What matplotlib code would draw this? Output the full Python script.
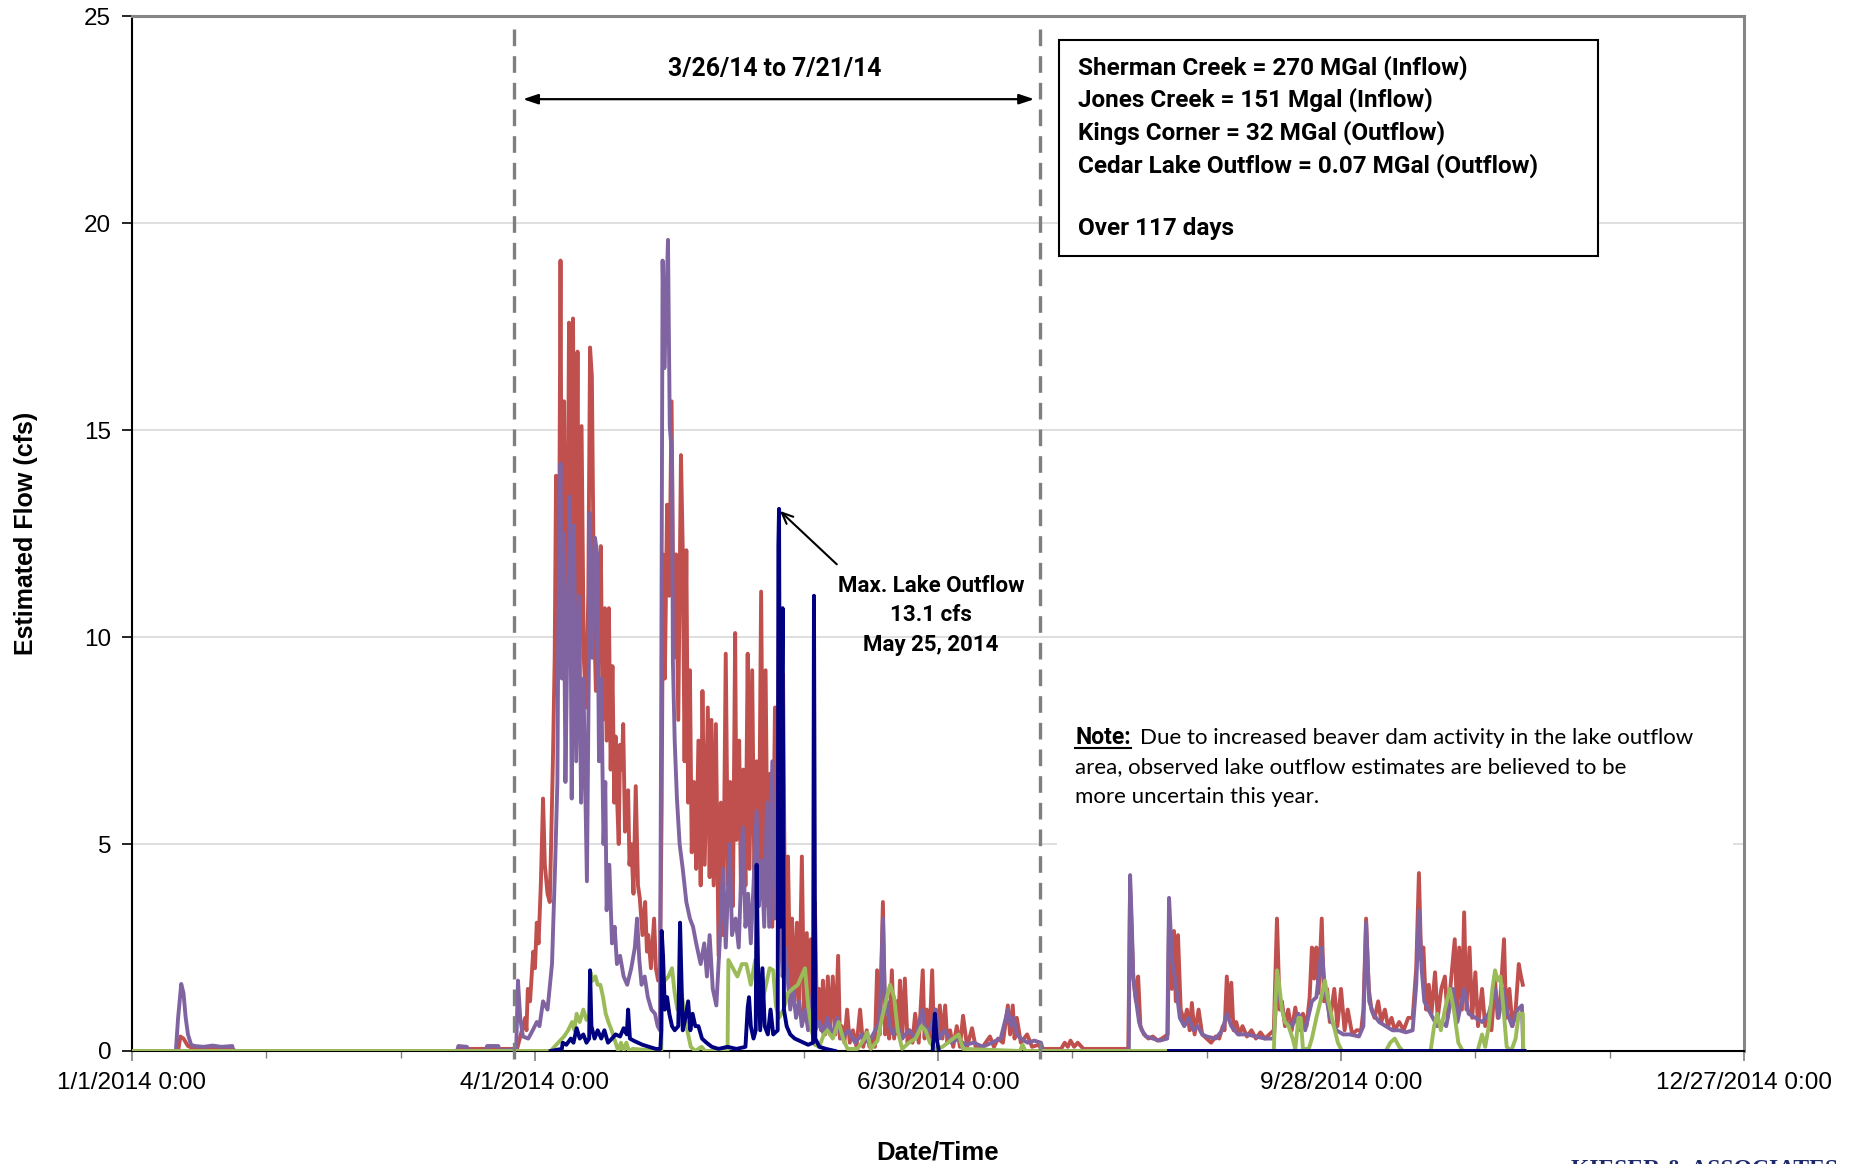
import numpy as np
import matplotlib
matplotlib.use("Agg")
import matplotlib.pyplot as plt
from matplotlib.patches import Rectangle
from matplotlib.ticker import MultipleLocator

# x values are days since 1/1/2014 0:00, y values are flow in cfs
tick_days = [0, 90, 180, 270, 360]
tick_labels = ["1/1/2014 0:00", "4/1/2014 0:00", "6/30/2014 0:00",
               "9/28/2014 0:00", "12/27/2014 0:00"]
period_start = 85.4   # 3/26/14 line as drawn
period_end = 202.8    # 7/21/14 line as drawn
max_outflow_day = 144.5
max_outflow_cfs = 13.1

sherman = [
    (0, 0), (10.3, 0), (10.8, 0.35), (11.5, 0.3), (12.5, 0.12), (14, 0.05), (22.5, 0.05), (23, 0),
    (72.5, 0), (73, 0.05), (86.0, 0.05),
    (86.6, 0.3), (87.3, 0.6), (87.8, 0.8), (88.1, 0.5), (88.4, 1.5), (88.9, 1.2), (89.6, 2.4), (90.0, 2.0),
    (90.4, 3.1), (90.8, 2.6), (91.3, 4.0), (91.8, 6.1), (92.2, 4.5), (92.8, 3.8), (93.3, 3.6), (93.6, 5.0),
    (94.0, 7.0), (94.4, 9.5), (94.7, 13.9), (95.0, 9.0), (95.4, 12.0), (95.7, 19.1), (96.0, 11.0),
    (96.5, 15.7), (96.9, 9.5), (97.3, 12.0), (97.6, 17.6), (98.0, 10.0), (98.5, 17.7), (98.9, 8.8),
    (99.2, 12.5), (99.5, 16.9), (99.9, 9.0), (100.4, 15.1), (100.9, 9.5), (101.4, 8.3), (101.9, 11.0),
    (102.3, 17.0), (102.7, 16.3), (103.2, 10.5), (103.6, 8.7), (104.2, 9.5), (104.7, 12.2), (105.1, 8.0),
    (105.6, 10.7), (106.0, 7.5), (106.5, 10.7), (106.9, 6.8), (107.3, 9.3), (107.7, 6.0), (108.0, 7.6),
    (108.2, 6.5), (108.7, 5.0), (109.0, 7.4), (109.4, 6.8), (109.7, 7.9), (110.1, 5.3), (110.8, 6.3),
    (111.1, 4.5), (111.5, 5.0), (112.0, 3.8), (112.5, 6.4), (113.0, 4.0), (113.4, 3.7), (114.0, 2.8),
    (114.6, 3.6), (115.0, 2.4), (115.3, 2.8), (115.9, 2.0), (116.6, 3.2), (117.0, 2.0), (117.5, 1.7),
    (117.9, 1.8), (118.3, 6.0), (118.6, 12.0), (119.0, 9.0), (119.5, 13.2), (120.0, 11.0), (120.5, 15.7),
    (121.0, 9.5), (121.5, 12.0), (122.0, 8.0), (122.6, 14.4), (123.0, 12.1), (123.4, 7.0), (123.8, 12.1),
    (124.2, 6.0), (124.6, 9.2), (125.0, 4.8), (125.5, 6.5), (126.0, 4.4), (126.5, 7.5), (127.0, 4.0),
    (127.4, 8.7), (127.9, 4.5), (128.6, 8.3), (129.0, 4.2), (129.4, 8.0), (129.9, 4.0), (130.4, 7.9),
    (131.0, 2.3), (131.5, 6.0), (132.0, 2.8), (132.6, 9.6), (133.1, 4.0), (133.6, 6.5), (134.2, 3.5),
    (134.7, 10.1), (135.0, 5.1), (135.6, 7.5), (136.0, 3.8), (136.5, 6.8), (137.0, 4.0), (137.5, 9.6),
    (137.9, 4.4), (138.5, 9.2), (139.0, 4.0), (139.5, 7.0), (140.0, 4.2), (140.5, 11.1), (141.0, 4.5),
    (141.5, 9.2), (142.0, 3.5), (142.5, 6.7), (143.0, 3.0), (143.6, 8.3), (144.0, 3.5), (144.5, 10.6),
    (145.0, 3.0), (145.4, 9.1), (145.9, 2.0), (146.5, 4.7), (147.0, 1.5), (147.4, 3.2), (148.0, 1.2),
    (148.5, 3.1), (149.0, 1.0), (149.6, 4.7), (150.1, 0.9), (150.7, 2.85), (151.1, 0.8), (151.6, 2.7),
    (152.0, 0.8), (152.5, 3.6), (153.0, 0.6), (153.4, 1.5), (153.9, 0.5), (154.3, 1.7), (154.8, 0.4),
    (155.4, 1.8), (155.9, 0.4), (156.5, 1.8), (157.1, 0.4), (157.7, 2.3), (158.1, 0.3), (158.5, 0.6),
    (159.1, 0.2), (159.7, 1.0), (160.3, 0.2), (161.0, 0.5), (161.8, 0.1), (162.6, 1.0), (163.3, 0.1),
    (164.1, 0.5), (164.7, 0.1), (165.3, 0.35), (165.9, 0.1), (166.4, 1.95), (167.0, 0.4), (167.7, 3.6),
    (168.2, 0.4), (168.6, 0.8), (169.1, 0.3), (169.7, 1.95), (170.2, 0.3), (170.8, 1.2), (171.1, 0.4),
    (171.5, 1.7), (172.0, 0.3), (172.6, 1.75), (173.2, 0.2), (173.7, 0.5), (174.3, 0.2), (174.9, 0.9),
    (175.7, 0.2), (176.6, 1.95), (177.0, 0.3), (177.5, 1.0), (178.1, 0.3), (178.7, 1.95), (179.1, 0.3),
    (179.5, 1.0), (180.0, 0.3), (180.4, 1.1), (181.0, 0.3), (181.6, 1.1), (182.1, 0.2), (182.7, 0.5),
    (183.4, 0.1), (184.2, 0.6), (184.9, 0.1), (185.6, 0.85), (186.5, 0.1), (187.6, 0.55), (188.5, 0.05),
    (190.0, 0.1), (191.6, 0.35), (192.5, 0.1), (193.4, 0.3), (194.5, 0.2), (195.6, 1.1), (196.1, 0.4),
    (196.7, 1.1), (197.1, 0.3), (197.6, 0.8), (198.5, 0.2), (199.9, 0.4), (201, 0.1), (202.5, 0.15),
    (203, 0.05), (207.5, 0.05), (208.3, 0.2), (209, 0.1), (209.6, 0.25), (210.4, 0.1), (211.2, 0.2),
    (212.5, 0.05), (214, 0.05), (222.5, 0.05),
    (222.9, 4.0), (223.6, 1.8), (224.2, 1.2), (224.7, 1.8), (225.2, 0.6), (226, 0.4), (227, 0.3),
    (228, 0.35), (229, 0.25), (230, 0.3), (231.3, 0.4), (231.6, 3.2), (232.2, 1.5), (232.7, 2.9),
    (233.1, 1.2), (233.6, 2.8), (234.2, 1.0), (235, 0.7), (235.6, 1.0), (236.2, 0.5), (236.7, 1.16),
    (237.3, 0.4), (238.2, 1.0), (239, 0.4), (240, 0.3), (241, 0.2), (242, 0.35), (242.8, 0.3),
    (243.6, 0.6), (244.0, 0.5), (244.5, 1.8), (245.0, 0.8), (245.5, 1.65), (246, 0.5), (246.6, 0.7),
    (247.3, 0.4), (248, 0.6), (249, 0.35), (250, 0.5), (251, 0.3), (252, 0.45), (253, 0.3), (254, 0.4),
    (255, 0.5), (255.7, 3.2), (256.3, 1.0), (256.8, 1.2), (257.5, 0.6), (258.2, 1.0), (259, 0.5),
    (259.8, 1.05), (260.5, 0.5), (261.5, 0.9), (262.3, 0.6), (263.0, 1.3), (263.5, 2.5), (264.0, 1.75),
    (264.5, 2.5), (265.0, 1.4), (265.7, 3.2), (266.2, 1.2), (266.9, 1.5), (267.5, 0.7), (268.5, 1.5),
    (269.2, 0.6), (270, 1.5), (270.8, 0.5), (271.5, 1.0), (272.5, 0.4), (273.5, 0.5), (274.5, 0.5),
    (275.0, 1.0), (275.6, 3.2), (276.2, 1.5), (276.8, 1.0), (277.5, 0.8), (278.3, 1.2), (279, 0.7),
    (279.8, 1.0), (280.5, 0.6), (281.3, 0.8), (282, 0.5), (283, 0.7), (284, 0.5), (285, 0.8), (286, 0.8),
    (286.8, 2.0), (287.4, 4.3), (287.9, 2.2), (288.4, 2.5), (289.0, 1.0), (289.6, 1.6), (290.2, 0.9),
    (291.0, 1.9), (291.6, 0.8), (292.4, 1.5), (293.2, 1.8), (293.8, 0.8), (294.4, 1.5), (295.4, 2.7),
    (295.9, 0.9), (296.4, 2.5), (297.0, 1.0), (297.5, 3.35), (298.0, 1.0), (298.7, 2.5), (299.3, 0.8),
    (300, 1.9), (300.6, 0.6), (301.5, 1.5), (302.2, 0.6), (303.0, 0.9), (303.6, 0.5), (304.4, 1.7),
    (305.0, 0.8), (305.6, 1.3), (306.4, 2.7), (306.9, 0.8), (307.6, 1.5), (308.3, 0.6), (309.0, 1.0),
    (309.7, 2.1), (310.2, 1.8), (310.6, 1.6),
]

jones = [
    (0, 0), (9.8, 0), (10.3, 0.8), (11.0, 1.62), (11.5, 1.4), (12.0, 0.8), (12.5, 0.4), (13.2, 0.15),
    (14, 0.12), (16, 0.1), (18, 0.13), (20, 0.1), (22.4, 0.12), (22.6, 0), (72.6, 0), (72.9, 0.12),
    (74.8, 0.1), (75.1, 0), (79, 0), (79.3, 0.12), (81.8, 0.12), (82.1, 0),
    (85.8, 0.05), (86.2, 1.7), (86.7, 0.8), (87.3, 0.35), (88.5, 0.3), (89.5, 0.5), (90.4, 0.7),
    (91.0, 0.6), (91.8, 1.2), (92.8, 1.0), (93.8, 2.1), (94.5, 4.5), (95.0, 6.5), (95.2, 10.0),
    (95.7, 14.2), (96.0, 9.0), (96.4, 12.5), (96.8, 6.5), (97.3, 10.5), (97.8, 13.4), (98.2, 6.1),
    (98.7, 12.7), (99.2, 7.0), (99.8, 11.0), (100.3, 6.0), (100.8, 9.0), (101.6, 4.1), (102.0, 9.0),
    (102.3, 13.0), (102.8, 9.5), (103.4, 12.4), (103.9, 12.0), (104.3, 7.0), (104.8, 9.0), (105.3, 5.0),
    (105.7, 6.5), (106.0, 3.4), (106.6, 4.5), (107.2, 2.6), (107.8, 3.0), (108.3, 2.1), (109.0, 2.3),
    (109.8, 1.8), (110.6, 1.6), (111.5, 2.0), (112.3, 2.5), (112.8, 3.2), (113.3, 2.2), (113.8, 1.6),
    (114.5, 1.8), (115.2, 1.3), (116.0, 1.0), (116.8, 0.9), (117.4, 0.6), (117.9, 0.5), (118.2, 8.7),
    (118.5, 19.1), (118.9, 16.5), (119.3, 18.0), (119.7, 19.6), (120.1, 15.1), (120.6, 14.4),
    (120.8, 9.4), (121.2, 7.5), (121.7, 6.1), (122.3, 5.0), (123.0, 4.4), (123.8, 3.6), (124.6, 3.2),
    (125.3, 3.0), (126.0, 2.6), (127.0, 2.1), (127.8, 2.6), (128.4, 1.8), (129.0, 2.8), (129.7, 1.5),
    (130.5, 1.1), (131.2, 2.5), (132.0, 4.4), (132.6, 2.5), (133.5, 5.0), (134.0, 2.8), (134.8, 3.2),
    (135.5, 2.5), (136.4, 5.4), (137.0, 3.0), (137.6, 3.8), (138.2, 2.6), (138.8, 4.0), (139.5, 5.8),
    (140.0, 3.5), (140.6, 4.6), (141.2, 3.0), (141.8, 6.0), (142.3, 3.0), (143.0, 7.0), (143.5, 3.2),
    (144.0, 5.0), (144.7, 3.5), (145.3, 1.8), (145.8, 2.5), (146.3, 1.9), (147.0, 1.0), (147.6, 1.5),
    (148.3, 0.8), (149.0, 1.2), (149.6, 0.6), (150.3, 1.0), (151.0, 0.5), (151.6, 0.9), (152.1, 1.5),
    (152.6, 0.5), (153.5, 0.7), (154.5, 0.4), (155.3, 0.8), (156.3, 0.35), (157.5, 0.8), (158.5, 0.3),
    (160, 0.5), (161.5, 0.2), (163, 0.4), (164.5, 0.2), (166.0, 0.5), (167.0, 0.7), (167.7, 3.2),
    (168.2, 1.0), (168.6, 1.2), (169.2, 0.6), (170, 0.4), (171, 0.6), (172, 0.3), (173.5, 0.5),
    (175, 0.3), (176.5, 1.0), (177.3, 0.4), (178.5, 0.6), (179.5, 1.0), (180.3, 0.3), (181.5, 0.5),
    (183, 0.2), (184.5, 0.3), (186, 0.15), (188, 0.2), (190, 0.1), (192, 0.2), (194, 0.3), (195.6, 1.0),
    (196.3, 0.6), (196.9, 0.8), (197.6, 0.4), (198.5, 0.3), (200, 0.2), (201.5, 0.25), (203, 0.2),
    (203.5, 0), (222.6, 0),
    (222.9, 4.25), (223.3, 3.0), (223.6, 1.8), (224.0, 1.4), (224.9, 0.7), (225.5, 0.5), (226.5, 0.35),
    (228, 0.3), (229.5, 0.25), (231.2, 0.3), (231.6, 3.7), (232.0, 2.8), (232.4, 2.1), (233.0, 1.7),
    (234, 0.8), (235, 0.6), (236, 0.8), (237, 0.5), (238, 0.6), (239, 0.4), (240, 0.35), (242, 0.3),
    (243.5, 0.5), (244.5, 0.9), (245.5, 0.6), (247, 0.4), (249, 0.4), (251, 0.35), (253, 0.3),
    (255, 0.3), (255.7, 1.5), (256.3, 1.3), (257.5, 0.7), (259, 0.6), (260.5, 0.9), (262, 0.5),
    (263.5, 1.2), (264.5, 1.3), (265.7, 2.5), (266.4, 1.5), (267.5, 0.8), (269, 0.5), (270.5, 0.4),
    (272, 0.4), (274, 0.35), (275.0, 0.6), (275.6, 3.1), (276.3, 1.2), (277.2, 0.9), (278.5, 0.7),
    (280, 0.6), (281.5, 0.5), (283, 0.5), (284.5, 0.45), (286, 0.5), (286.8, 1.6), (287.4, 3.4),
    (288.0, 2.0), (288.6, 1.2), (289.5, 1.0), (290.5, 0.8), (291.5, 0.6), (292.5, 0.7), (293.5, 0.6),
    (295.0, 1.5), (296, 0.7), (297.5, 1.5), (298.5, 0.9), (300, 0.8), (301.5, 0.7), (303, 0.9),
    (304.4, 1.5), (305.2, 0.8), (306.2, 1.5), (307.2, 0.9), (308.2, 0.6), (309.5, 1.0), (310.4, 1.1),
    (310.7, 0),
]

kings_corner = [
    (0, 0), (93.5, 0), (95.6, 0.25), (96.5, 0.35), (97.4, 0.5), (98.3, 0.7), (98.8, 0.5), (99.3, 0.9),
    (100.0, 0.7), (100.8, 1.0), (101.5, 0.75), (102.1, 0.8), (102.4, 1.9), (102.9, 1.7), (103.5, 1.8),
    (104.0, 1.6), (104.6, 1.6), (105.2, 1.3), (105.8, 0.9), (106.4, 0.7), (107.1, 0.5), (108.0, 0.2),
    (108.6, 0.0), (109.2, 0.2), (109.8, 0.0), (110.4, 0.2), (111.0, 0.0), (111.8, 0.05), (118.2, 0.0),
    (118.4, 1.6), (119.0, 1.7), (119.8, 1.8), (120.6, 2.0), (121.2, 1.4), (121.8, 1.0), (122.7, 1.4),
    (123.3, 1.0), (124.0, 0.5), (124.8, 0.1), (125.8, 0), (127.2, 0.1), (128.0, 0), (133.0, 0),
    (133.2, 2.2), (134.2, 2.0), (135.2, 1.8), (136.2, 2.1), (137.2, 2.1), (138.2, 1.6), (139.2, 2.2),
    (140.3, 1.0), (141.4, 1.5), (142.4, 2.0), (143.2, 1.95), (143.8, 1.1), (144.5, 0.8), (145.5, 1.0),
    (146.5, 1.4), (147.5, 1.5), (148.7, 1.6), (149.5, 1.8), (150.3, 2.0), (151.0, 1.1), (151.8, 0.5),
    (152.5, 0.15), (153.5, 0.1), (154.5, 0.4), (155.3, 0.5), (156.5, 0.3), (157.8, 0.7), (158.8, 0.3),
    (159.8, 0.05), (162, 0.05), (163.6, 0.3), (164.2, 0.45), (165, 0.05), (166.5, 0.25), (167.5, 0.8),
    (168.6, 1.3), (169.3, 1.6), (170.2, 1.3), (171.0, 0.5), (172.0, 0.05), (173.5, 0.2), (175, 0.3),
    (176.3, 0.6), (177.2, 0.5), (178.2, 0.2), (179.5, 0.05), (181, 0.1), (184.6, 0.4), (185.6, 0.05),
    (198.3, 0.0), (198.9, 0.15), (199.5, 0.0), (255.0, 0.0), (255.3, 1.0), (255.7, 1.95), (256.2, 1.6),
    (256.8, 1.0), (257.5, 0.7), (258.3, 0.6), (259.2, 0.3), (259.8, 0.05), (260.5, 0.8), (261.0, 0.8),
    (261.5, 0.05), (262.8, 0.05), (263.5, 0.3), (264.5, 0.8), (265.4, 1.2), (266.4, 1.7), (267.0, 1.3),
    (267.6, 1.0), (268.4, 0.6), (269.3, 0.2), (270.2, 0.0), (280.0, 0.0), (281.0, 0.2), (282.0, 0.3),
    (283.0, 0.1), (283.8, 0.0), (290.0, 0.0), (290.8, 0.6), (291.5, 0.9), (292.3, 0.5), (293.2, 1.0),
    (294.3, 1.5), (295.2, 1.0), (296.2, 0.2), (297.2, 0.0), (300.5, 0.0), (301.5, 0.4), (302.2, 0.1),
    (303.0, 0.6), (303.8, 1.5), (304.4, 1.95), (305.0, 1.7), (305.6, 1.8), (306.3, 1.0), (307.0, 0.1),
    (308.0, 0.0), (309.0, 0.3), (309.7, 0.9), (310.6, 0.9), (310.7, 0.0), (311, 0),
]

cedar_lake = [
    (93.5, 0), (96.0, 0.05), (96.2, 0.2), (97.0, 0.15), (98.0, 0.3), (98.6, 0.2), (99.3, 0.55),
    (100.0, 0.3), (100.8, 0.4), (101.5, 0.2), (102.1, 0.3), (102.3, 1.95), (102.6, 0.6), (103.3, 0.3),
    (104.0, 0.5), (104.8, 0.3), (105.5, 0.5), (106.3, 0.2), (107.2, 0.3), (108.0, 0.4), (109.0, 0.35),
    (109.8, 0.55), (110.5, 0.4), (110.8, 1.0), (111.2, 0.3), (112.0, 0.25), (113.0, 0.2), (114.0, 0.15),
    (115.5, 0.1), (117.0, 0.05), (118.0, 0.05), (118.2, 0.5), (118.3, 2.9), (118.6, 2.3), (119.0, 1.0),
    (119.5, 1.3), (120.0, 0.9), (120.6, 0.6), (121.2, 0.5), (122.0, 0.6), (122.4, 3.1), (122.6, 2.2),
    (123.0, 0.5), (123.6, 0.8), (124.2, 1.2), (124.7, 0.5), (125.2, 0.9), (125.8, 0.6), (126.5, 0.6),
    (127.3, 0.3), (128.3, 0.2), (129.5, 0.1), (131, 0.05), (133, 0.1), (135, 0.05), (137.0, 0.1),
    (137.5, 1.05), (137.8, 1.3), (138.2, 0.6), (138.8, 0.3), (139.3, 0.5), (139.5, 4.5), (139.8, 2.1),
    (140.3, 0.5), (140.8, 2.0), (141.3, 0.6), (142.0, 0.4), (142.6, 1.0), (143.2, 0.4), (144.2, 0.5),
    (144.35, 12.2), (144.5, 13.1), (144.8, 3.0), (145.3, 10.7), (145.6, 1.0), (146.2, 0.6),
    (147.0, 0.4), (148.0, 0.3), (149.0, 0.25), (150.0, 0.2), (151.0, 0.15), (152.1, 0.2), (152.3, 11.0),
    (152.6, 0.3), (153.5, 0.1), (155, 0.05), (157, 0), (157.2, np.nan),
    (178.8, 0), (179.3, 0.9), (179.7, 0.3), (180.2, 0.0), (180.4, np.nan),
    (231.6, 0), (311, 0),
]

series = [
    (sherman, "#C0504D"),
    (jones, "#8064A2"),
    (kings_corner, "#9BBB59"),
    (cedar_lake, "#000080"),
]

plt.rcParams["font.family"] = ["Liberation Sans", "DejaVu Sans"]

fig = plt.figure(figsize=(18.51, 11.64), dpi=100)
ax = fig.add_axes([0.0713, 0.0971, 0.8709, 0.8888])

ax.set_axisbelow(True)
ax.grid(axis="y", color="#D9D9D9", linewidth=1.2)

for i, (data, color) in enumerate(series):
    d = np.array(data, dtype=float)
    ax.plot(d[:, 0], d[:, 1], color=color, linewidth=2.8, zorder=2 + i,
            solid_joinstyle="round")

ax.set_xlim(0, 360)
ax.set_ylim(0, 25)
ax.set_xticks(tick_days)
ax.set_xticklabels(tick_labels)
ax.xaxis.set_minor_locator(MultipleLocator(30))
ax.set_yticks([0, 5, 10, 15, 20, 25])
ax.tick_params(axis="both", which="major", labelsize=17.5, length=7, width=1.2,
               direction="out", pad=8)
ax.tick_params(axis="x", which="minor", length=5, width=1, color="#808080")
ax.tick_params(axis="x", which="major", color="#808080")

for side in ["left", "bottom"]:
    ax.spines[side].set_color("black")
    ax.spines[side].set_linewidth(1.5)
for side in ["top", "right"]:
    ax.spines[side].set_color("#868686")
    ax.spines[side].set_linewidth(2.2)

ax.set_ylabel("Estimated Flow (cfs)", fontsize=18, fontweight="bold", labelpad=12)
ax.yaxis.set_label_coords(-0.058, 0.5)
ax.set_xlabel("Date/Time", fontsize=18.5, fontweight="bold")
ax.xaxis.set_label_coords(0.4995, -0.087)

# dashed lines marking the period
for day in [period_start, period_end]:
    ax.plot([day, day], [-0.2, 24.8], color="#7F7F7F", linewidth=2.4,
            dashes=(5, 3), zorder=8, clip_on=False)

bold_font = ["Roboto", "DejaVu Sans"]
plain_font = ["Lato", "DejaVu Sans"]

ax.annotate("", xy=(87.3, 23.0), xytext=(201.5, 23.0),
            arrowprops=dict(arrowstyle="<|-|>,head_length=0.9,head_width=0.3",
                            color="black", lw=1.6, shrinkA=0, shrinkB=0), zorder=9)
ax.text(143.5, 23.72, "3/26/14 to 7/21/14", family=bold_font, fontweight="bold",
        fontsize=17.8, ha="center", va="center", zorder=9)

# summary box
ax.add_patch(Rectangle((207.0, 19.2), 120.4, 5.24, facecolor="white",
                       edgecolor="black", linewidth=1.5, zorder=10))
box_lines = ["Sherman Creek = 270 MGal (Inflow)",
             "Jones Creek = 151 Mgal (Inflow)",
             "Kings Corner = 32 MGal (Outflow)",
             "Cedar Lake Outflow = 0.07 MGal (Outflow)"]
for k, line in enumerate(box_lines):
    ax.text(211.3, 23.77 - k * 0.79, line, family=bold_font, fontweight="bold",
            fontsize=17.5, ha="left", va="center", zorder=11)
ax.text(211.3, 19.87, "Over 117 days", family=bold_font, fontweight="bold",
        fontsize=17.5, ha="left", va="center", zorder=11)

# max outflow callout
ax.annotate("", xy=(max_outflow_day + 0.2, max_outflow_cfs - 0.05), xytext=(157.4, 11.76),
            arrowprops=dict(arrowstyle="->,head_length=0.8,head_width=0.35",
                            color="black", lw=1.5, shrinkA=0, shrinkB=0), zorder=9)
for k, line in enumerate(["Max. Lake Outflow", "13.1 cfs", "May 25, 2014"]):
    ax.text(178.4, 11.24 - k * 0.71, line, family=bold_font, fontweight="bold",
            fontsize=16, ha="center", va="center", zorder=9)

# note text box (white fill hides the gridline behind it)
ax.add_patch(Rectangle((206.6, 4.88), 151, 3.4, facecolor="white",
                       edgecolor="none", zorder=1.5))
note_head = ax.text(210.7, 7.57, "Note:", family=bold_font, fontweight="bold",
                    fontsize=16.5, ha="left", va="center", zorder=9)
fig.canvas.draw()
renderer = fig.canvas.get_renderer()
bb = note_head.get_window_extent(renderer).transformed(ax.transData.inverted())
ax.plot([bb.x0, bb.x1], [bb.y0 + 0.03, bb.y0 + 0.03], color="black",
        linewidth=1.5, zorder=9)
ax.text(bb.x1 + 2.0, 7.57, "Due to increased beaver dam activity in the lake outflow",
        family=plain_font, fontsize=16, ha="left", va="center", zorder=9)
ax.text(210.7, 6.87, "area, observed lake outflow estimates are believed to be",
        family=plain_font, fontsize=16, ha="left", va="center", zorder=9)
ax.text(210.7, 6.14, "more uncertain this year.",
        family=plain_font, fontsize=16, ha="left", va="center", zorder=9)

# logo, cut by the bottom edge of the image as in the source
fig.text(0.849, 0.004, "KIESER & ASSOCIATES", family=["Liberation Serif"],
         fontweight="bold", fontsize=17, color="#1F2A6B", ha="left", va="top")

fig.savefig("out.png", dpi=100)
